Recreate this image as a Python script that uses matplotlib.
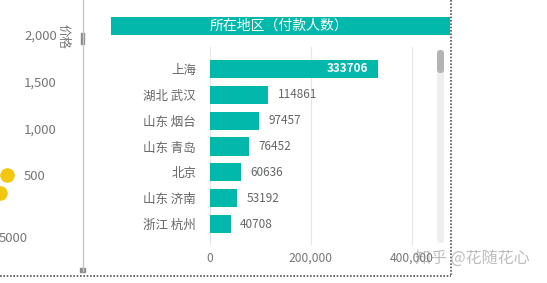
import matplotlib
matplotlib.use("Agg")
import matplotlib.pyplot as plt
from matplotlib.patches import Rectangle, FancyBboxPatch

plt.rcParams['font.family'] = ['Noto Sans CJK SC', 'DejaVu Sans']

# bar chart data
regions = ['上海', '湖北 武汉', '山东 烟台', '山东 青岛', '北京', '山东 济南', '浙江 杭州']
buyers = [333706, 114861, 97457, 76452, 60636, 53192, 40708]
bar_ticks = [0, 200000, 400000]
bar_ticklabels = ['0', '200,000', '400,000']

# partial scatter on the left (price)
price_x = [4700, 4350]
price_y = [500, 310]
price_ticks = [500, 1000, 1500, 2000]
price_ticklabels = ['500', '1,000', '1,500', '2,000']

W, H = 547, 283
TEAL = '#01B8AA'
GREY = '#666666'


def box(x0, y0, x1, y1):
    return [x0 / W, 1 - y1 / H, (x1 - x0) / W, (y1 - y0) / H]


fig = plt.figure(figsize=(W / 100, H / 100), dpi=100)
fig.patch.set_facecolor('white')

# overlay for frame decorations, in pixel units
deco = fig.add_axes([0, 0, 1, 1], zorder=0)
deco.set_xlim(0, W)
deco.set_ylim(H, 0)
deco.axis('off')

deco.plot([83, 83], [0, 271], color='#c8c8c8', lw=1)
deco.add_patch(Rectangle((81, 33), 3, 11, color='#8a8a8a'))
deco.add_patch(Rectangle((80, 268), 5, 4, color='#8a8a8a'))
deco.plot([0, 451], [276, 276], color='#555555', lw=1.2, ls=(0, (1, 1)))
deco.plot([451, 451], [0, 276], color='#555555', lw=1.2, ls=(0, (1, 1)))

# title band
deco.add_patch(Rectangle((111, 17), 339, 18, color=TEAL, lw=0))
deco.text(279, 26, '所在地区（付款人数）', color='white', fontsize=10,
          ha='center', va='center')

# scrollbar
deco.add_patch(FancyBboxPatch((437, 50), 7, 193, boxstyle='round,pad=0,rounding_size=3.5',
                              color='#eeeeee', lw=0))
deco.add_patch(FancyBboxPatch((437, 50), 7, 23, boxstyle='round,pad=0,rounding_size=3.5',
                              color='#b3b3b3', lw=0))

# watermark
deco.text(415, 258, '知乎 @花随花心', color='#bdbdbd', fontsize=11.5,
          ha='left', va='center', zorder=10)

# left scatter fragment
axl = fig.add_axes(box(0, 20, 20, 228), zorder=1)
axl.patch.set_alpha(0)
axl.scatter(price_x, price_y, s=110, color='#F2C80F', lw=0, clip_on=True)
axl.set_xlim(4350, 5350)
axl.set_ylim(-67, 2161)
for s in axl.spines.values():
    s.set_visible(False)
axl.yaxis.tick_right()
axl.set_yticks(price_ticks)
axl.set_yticklabels(price_ticklabels)
axl.set_xticks([5000])
axl.set_xticklabels(['5000'])
axl.tick_params(length=0, colors='#777777', labelsize=9.5, pad=3)
fig.text(63 / W, 1 - 36 / H, '价格', rotation=270, color='#777777', fontsize=9,
         ha='center', va='center')

# bar chart
ax = fig.add_axes(box(210, 47, 430, 245), zorder=2)
ax.patch.set_alpha(0)
ypos = list(range(len(regions)))
ax.barh(ypos, buyers, height=0.7, color=TEAL, zorder=2)
ax.set_xlim(0, 436700)
ax.set_ylim(6.81, -0.85)
ax.set_xticks(bar_ticks)
ax.set_xticklabels(bar_ticklabels)
ax.set_yticks(ypos)
ax.set_yticklabels(regions)
ax.tick_params(length=0, colors='#777777', labelsize=8.7)
ax.tick_params(axis='y', pad=10, labelcolor=GREY, labelsize=9)
ax.tick_params(axis='x', pad=5)
ax.grid(axis='x', color='#e6e6e6', lw=0.8, zorder=0)
for s in ax.spines.values():
    s.set_visible(False)

for i, v in enumerate(buyers):
    if v > 300000:
        ax.annotate(str(v), (v, i), xytext=(-7, 0), textcoords='offset points',
                    ha='right', va='center', color='white', fontsize=8.5,
                    fontweight='bold', zorder=3)
    else:
        ax.annotate(str(v), (v, i), xytext=(7, 0), textcoords='offset points',
                    ha='left', va='center', color=GREY, fontsize=8.5, zorder=3)

fig.savefig('out.png', dpi=100, facecolor='white')
